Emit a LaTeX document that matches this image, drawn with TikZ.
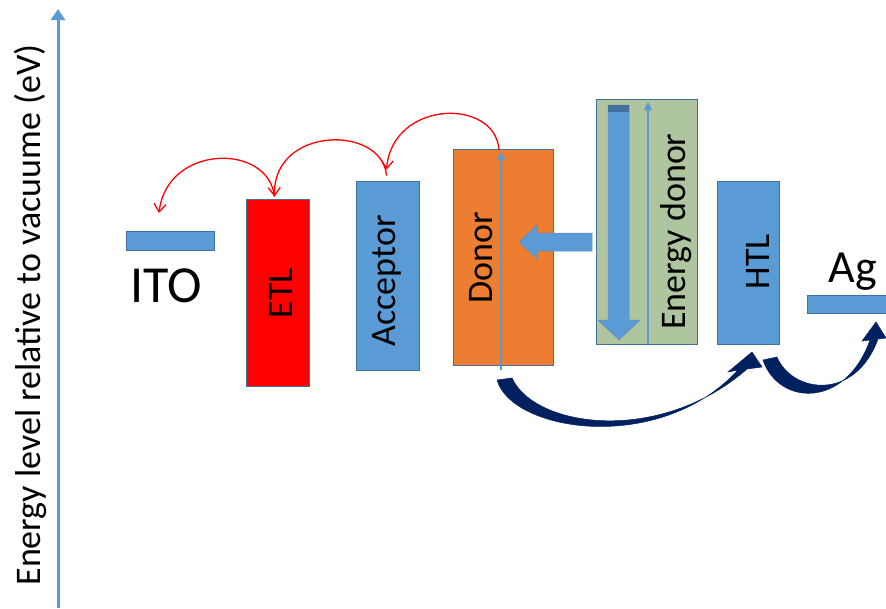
\documentclass[tikz,border=0pt]{standalone}
\usepackage{fontspec}
\setmainfont{Carlito}
\usetikzlibrary{arrows.meta,calc}
\definecolor{cellblue}{HTML}{5B9BD5}
\definecolor{edgeblue}{HTML}{41719C}
\definecolor{donororange}{HTML}{ED7D31}
\definecolor{energygreen}{HTML}{AEC5A0}
\definecolor{holenavy}{HTML}{002060}
\tikzset{
	layer/.style={draw=edgeblue, line width=0.8pt, inner sep=0pt},
	lbl/.style={font=\fontsize{36}{40}\selectfont, rotate=90, inner sep=0pt},
	bigtxt/.style={font=\fontsize{#1}{#1}\selectfont, inner sep=0pt, anchor=base},
	hop/.style={red, line width=1.3pt, -{Straight Barb[length=8pt,width=12pt]}},
	thinup/.style={cellblue, line width=1.3pt, -{Triangle[length=8pt,width=8pt]}},
	hole/.style={fill=holenavy, draw=holenavy, line width=0.5pt},
}

\begin{document}
\begin{tikzpicture}[x=1pt, y=-1pt]
			%%%%% START %%%%%
			\useasboundingbox (0, 0) rectangle (886, 608);
			
			% energy axis
			\draw[cellblue, line width=3pt, -{Triangle[length=11pt,width=14pt]}] (58, 608) -- (58, 9);
			\node[lbl] (axislbl) at (30, 315) {Energy level relative to vacuume (eV)};
			
			% electrodes
			\node[layer, fill=cellblue, minimum width=88pt, minimum height=19pt] (ito) at (170, 241) {};
			\node[bigtxt=52] (itotxt) at (166, 302) {ITO};
			\node[layer, fill=cellblue, minimum width=83pt, minimum height=18pt] (ag) at (848.5, 304) {};
			\node[bigtxt=46] (agtxt) at (853, 282) {Ag};
			
			% layers
			\node[layer, fill=red, minimum width=63pt, minimum height=187pt] (etl) at (277.5, 292.5) {};
			\node[lbl] (etltxt) at (281, 293) {ETL};
			\node[layer, fill=cellblue, minimum width=63pt, minimum height=189pt] (acceptor) at (387.5, 275.5) {};
			\node[lbl] (acceptortxt) at (387, 281) {Acceptor};
			\node[layer, fill=donororange, minimum width=100pt, minimum height=216pt] (donor) at (503, 257) {};
			\node[lbl] (donortxt) at (481, 258) {Donor};
			\node[layer, fill=energygreen, minimum width=101pt, minimum height=245pt] (edonor) at (646.5, 221.5) {};
			\node[lbl] (edonortxt) at (676, 231.5) {Energy donor};
			\node[layer, fill=cellblue, minimum width=62pt, minimum height=163pt] (htl) at (748, 262.5) {};
			\node[lbl] (htltxt) at (758, 261.5) {HTL};
			
			% arrows inside donor and energy donor
			\draw[thinup] (501, 370) -- (501, 152);
			\draw[thinup] (648, 344) -- (648, 102);
			\draw[fill=cellblue, draw=edgeblue!80, line width=0.5pt] (608, 105) -- (629, 105) -- (629, 320) -- (640, 320) -- (619, 340) -- (598, 320) -- (608, 320) -- cycle;
			\fill[edgeblue] (608, 105) rectangle (629, 112);
			\draw[fill=cellblue, draw=edgeblue!80, line width=0.5pt] (592, 233) -- (537, 233) -- (537, 225) -- (519, 242) -- (537, 259) -- (537, 251) -- (592, 251) -- cycle;
			
			% electron hops
			\coordinate (itohop) at (159, 213);
			\draw[hop] ($(donor.north)+(-4, 1)$) .. controls +(-4, -52) and +(6, -70) .. ($(acceptor.north)+(-1, -11)$);
			\draw[hop] ($(acceptor.north)+(-1, -5)$) .. controls +(-4, -51) and +(-2, -71) .. ($(etl.north)+(-3, -2)$);
			\draw[hop] ($(etl.north)+(-3, -2)$) .. controls +(-6, -54) and +(8, -69) .. (itohop);
			
			% hole transfer
			\path[hole] (497, 380) .. controls (512, 432) and (660, 455) .. (738, 370) -- (728, 372) -- (752, 352) -- (762, 367) -- (747, 369) .. controls (660, 445) and (535, 428) .. (512, 378) -- cycle;
			\path[hole] (763, 360) .. controls (778, 405) and (845, 410) .. (870, 340) -- (862, 341) -- (876, 322) -- (886, 338) -- (878, 339) .. controls (855, 402) and (792, 393) .. (777, 357) -- cycle;
			
			%%%%% END %%%%%
\end{tikzpicture}
\end{document}
